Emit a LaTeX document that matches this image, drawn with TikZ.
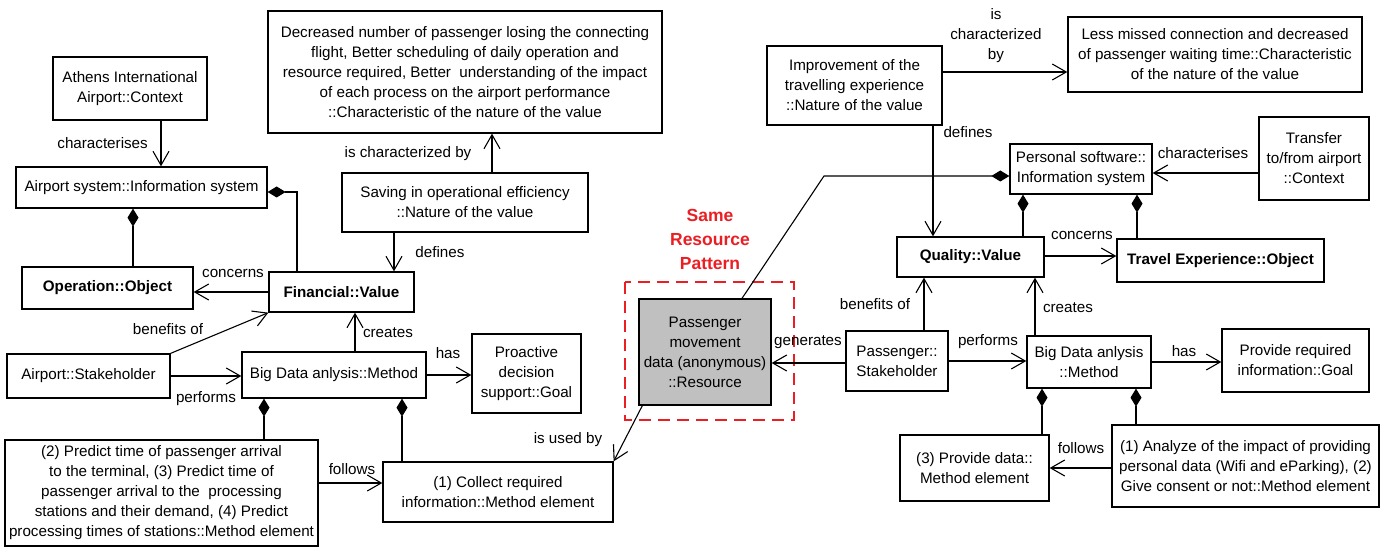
\documentclass[tikz,border=0pt]{standalone}
\usepackage{fontspec}
\setmainfont{Liberation Sans}
\usetikzlibrary{arrows.meta}
\definecolor{patred}{RGB}{235,30,35}
\definecolor{resgray}{RGB}{192,192,192}
\newcommand{\dfont}{\fontsize{15.2}{20}\selectfont}
\newcommand{\pfont}{\fontsize{17.5}{24}\selectfont\bfseries}

\begin{document}
\begin{tikzpicture}[x=1pt,y=-1pt,
  box/.style={draw, line width=1.3pt, inner sep=0pt, align=center, font=\dfont},
  lbl/.style={inner sep=0pt, font=\dfont, align=center},
  link/.style={line width=1.1pt},
  open/.style={link, -{Straight Barb[length=14pt,width=16pt]}},
  comp/.style={link, -{Diamond[length=18pt,width=11pt]}},
]
\fill[white] (0,0) rectangle (1385,548);
\useasboundingbox (0,0) rectangle (1385,548);

% ---------- left model ----------
\node[box, minimum width=154pt, minimum height=63pt] (athens) at (130,88.5) {Athens International\\Airport::Context};
\node[box, minimum width=251pt, minimum height=41pt] (airsys) at (141.5,187.5) {Airport system::Information system};
\node[box, minimum width=171pt, minimum height=42pt, font=\dfont\bfseries] (op) at (107.5,288) {Operation::Object};
\node[box, minimum width=145pt, minimum height=40pt, font=\dfont\bfseries] (fin) at (341.5,292) {Financial::Value};
\node[box, minimum width=163pt, minimum height=44pt] (stake) at (88.5,376) {Airport::Stakeholder};
\node[box, minimum width=184pt, minimum height=46pt] (meth) at (334,375) {Big Data anlysis::Method};
\node[box, minimum width=109pt, minimum height=79pt] (goal) at (526.5,373.5) {Proactive\\decision\\support::Goal};
\node[box, minimum width=313pt, minimum height=106pt] (predict) at (161.5,493) {(2) Predict time of passenger arrival\\to the terminal, (3) Predict time of\\passenger arrival to the\ \ processing\\stations and their demand, (4) Predict\\processing times of stations::Method element};
\node[box, minimum width=230pt, minimum height=60pt] (collect) at (498,492) {(1) Collect required\\information::Method element};
\node[box, minimum width=394pt, minimum height=122pt] (decr) at (465,72) {Decreased number of passenger losing the connecting\\flight, Better scheduling of daily operation and\\resource required, Better\ \ understanding of the impact\\of each process on the airport performance\\::Characteristic of the nature of the value};
\node[box, minimum width=246pt, minimum height=59pt] (saving) at (465,202.5) {Saving in operational efficiency\\::Nature of the value};

% ---------- shared resource ----------
\draw[patred, line width=2.6pt, dash pattern=on 12pt off 7pt] (625,282) rectangle (794,420);
\node[box, fill=resgray, minimum width=132pt, minimum height=106pt] (res) at (705,352) {Passenger\\movement\\data (anonymous)\\::Resource};
\node[lbl, font=\pfont, text=patred] (pattern) at (710,239) {Same\\Resource\\Pattern};

% ---------- right model ----------
\node[box, minimum width=175pt, minimum height=79pt] (impr) at (854.5,85.5) {Improvement of the\\travelling experience\\::Nature of the value};
\node[box, minimum width=294pt, minimum height=75pt] (less) at (1215,54.5) {Less missed connection and decreased\\of passenger waiting time::Characteristic\\of the nature of the value};
\node[box, minimum width=142pt, minimum height=50pt] (pers) at (1081,169) {Personal software::\\Information system};
\node[box, minimum width=110pt, minimum height=83pt] (transfer) at (1314,158.5) {Transfer\\to/from airport\\::Context};
\node[box, minimum width=147pt, minimum height=40pt, font=\dfont\bfseries] (qual) at (970.5,257) {Quality::Value};
\node[box, minimum width=207pt, minimum height=43pt, font=\dfont\bfseries] (travel) at (1220.5,260.5) {Travel Experience::Object};
\node[box, minimum width=102pt, minimum height=60pt] (pstake) at (897,361) {Passenger::\\Stakeholder};
\node[box, minimum width=124pt, minimum height=52pt] (rmeth) at (1089,362) {Big Data anlysis\\::Method};
\node[box, minimum width=147pt, minimum height=63pt] (rgoal) at (1295.5,360.5) {Provide required\\information::Goal};
\node[box, minimum width=149pt, minimum height=66pt] (provide) at (974.5,468) {(3) Provide data::\\Method element};
\node[box, minimum width=267pt, minimum height=82pt] (analyze) at (1245.5,466) {(1) Analyze of the impact of providing\\personal data (Wifi and eParking), (2)\\Give consent or not::Method element};

% ---------- left connectors ----------
\draw[open] ([xshift=31pt]athens.south) -- ([xshift=19.5pt]airsys.north);
\draw[comp] ([xshift=-44.5pt]fin.north) |- ([yshift=-4.5pt]airsys.east);
\draw[comp] ([xshift=25.5pt]op.north) -- ([xshift=-8.5pt]airsys.south);
\draw[open] (fin.west) -- (fin.west -| op.east);
\draw[open] (stake.north east) -- (fin.south west);
\draw[open] (stake.east) -- (stake.east -| meth.west);
\draw[open] ([xshift=21pt]meth.north) -- ([xshift=13.5pt]fin.south);
\draw[open] (meth.east) -- (meth.east -| goal.west);
\draw[comp] ([xshift=102.5pt]predict.north) -- ([xshift=-70pt]meth.south);
\draw[comp] ([xshift=-96pt]collect.north) -- ([xshift=68pt]meth.south);
\draw[open] ([yshift=10pt]predict.east) -- ([yshift=9pt]collect.west);
\draw[open] ([xshift=4pt]res.south west) -- (collect.north east);
\draw[open] ([xshift=27pt]saving.north) -- ([xshift=27pt]decr.south);
\draw[open] ([xshift=-71pt]saving.south) -- ([xshift=52.5pt]fin.north);

\node[lbl, anchor=east] (lchar) at (148,143) {characterises};
\node[lbl] (lconc) at (233,273) {concerns};
\node[lbl] (lbenef) at (168,329) {benefits of};
\node[lbl] (lperf) at (206,399) {performs};
\node[lbl] (lcreat) at (388,333) {creates};
\node[lbl] (lhas) at (448,353) {has};
\node[lbl] (lfoll) at (352,469) {follows};
\node[lbl] (lused) at (568,440) {is used by};
\node[lbl] (lischar) at (408,154) {is characterized by};
\node[lbl] (ldef) at (440,252) {defines};

% ---------- resource links ----------
\coordinate (bend) at (824,176);
\draw[comp] ([xshift=37pt]res.north) -- (bend) -- ([yshift=-7pt]pers.west);
\draw[open] ([yshift=-2pt]pstake.west) -- ([yshift=-2pt]pstake.west -| res.east);
\node[lbl] (lgen) at (808,342) {generates};

% ---------- right connectors ----------
\draw[open] ([yshift=13.5pt]impr.east) -- ([yshift=-17.5pt]less.west);
\draw[open] ([xshift=78.5pt]impr.south) -- ([xshift=-37.5pt]qual.north);
\draw[open] ([yshift=-14.5pt]transfer.west) -- ([yshift=-4pt]pers.east);
\draw[comp] ([xshift=52.5pt]qual.north) -- ([xshift=-58pt]pers.south);
\draw[comp] ([xshift=-83.5pt]travel.north) -- ([xshift=56pt]pers.south);
\draw[open] ([yshift=1pt]qual.east) -- ([yshift=1pt]qual.east -| travel.west);
\draw[open] ([xshift=27pt]pstake.north) -- ([xshift=-46.5pt]qual.south);
\draw[open] (pstake.east) -- (pstake.east -| rmeth.west);
\draw[open] ([xshift=-54pt]rmeth.north) -- ([xshift=64.5pt]qual.south);
\draw[open] (rmeth.east) -- (rmeth.east -| rgoal.west);
\draw[comp] ([xshift=67.5pt]provide.north) -- ([xshift=-47pt]rmeth.south);
\draw[comp] ([xshift=-109.5pt]analyze.north) -- ([xshift=47pt]rmeth.south);
\draw[open] ([yshift=-2pt]analyze.west) -- ([yshift=-2pt]analyze.west -| provide.east);

\node[lbl] (rischar) at (996,36) {is\\characterized\\by};
\node[lbl] (rdef) at (968,132) {defines};
\node[lbl] (rchar) at (1203,153) {characterises};
\node[lbl] (rconc) at (1082,235) {concerns};
\node[lbl] (rbenef) at (875,304) {benefits of};
\node[lbl] (rperf) at (988,342) {performs};
\node[lbl] (rcreat) at (1068,308) {creates};
\node[lbl] (rhas) at (1184,351) {has};
\node[lbl] (rfoll) at (1081,448) {follows};
\end{tikzpicture}
\end{document}
